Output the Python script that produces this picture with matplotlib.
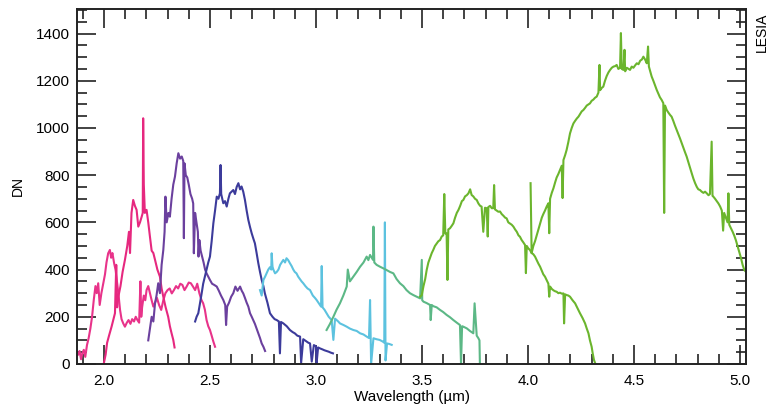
import matplotlib
matplotlib.use("Agg")
import matplotlib.pyplot as plt
from matplotlib.ticker import MultipleLocator

plt.rcParams['font.family'] = ['Liberation Sans', 'DejaVu Sans']

# spectral orders (wavelength in um, signal in DN)
wl_pink_a = [2.000, 2.008, 2.015, 2.024, 2.036, 2.045, 2.052, 2.058, 2.062, 2.068,
             2.078, 2.088, 2.099, 2.110, 2.118, 2.123, 2.130, 2.138, 2.146, 2.154,
             2.162, 2.170, 2.178, 2.183, 2.185, 2.188, 2.193, 2.201, 2.209, 2.217,
             2.225, 2.233, 2.241, 2.252, 2.264, 2.272, 2.280, 2.291, 2.303, 2.311,
             2.319, 2.327, 2.333]
dn_pink_a = [5, 40, 90, 120, 158, 190, 215, 420, 240, 285,
             330, 390, 441, 500, 560, 470, 640, 695, 670, 653,
             582, 600, 624, 640, 1041, 760, 640, 653, 600, 539,
             480, 470, 441, 400, 370, 320, 285, 240, 200, 160,
             130, 102, 70]

wl_pink_b = [1.878, 1.885, 1.892, 1.898, 1.905, 1.912, 1.920, 1.928, 1.936, 1.944,
             1.952, 1.960, 1.966, 1.973, 1.980, 1.988, 1.997, 2.005, 2.012, 2.020,
             2.028, 2.034, 2.040, 2.048, 2.055, 2.060, 2.068, 2.076, 2.083, 2.091,
             2.099, 2.108, 2.116, 2.125, 2.133, 2.142, 2.150, 2.158, 2.166, 2.172,
             2.176, 2.180, 2.188, 2.195, 2.201, 2.209, 2.217, 2.225, 2.233, 2.241,
             2.250, 2.260, 2.270, 2.280, 2.290, 2.300, 2.310, 2.320, 2.330, 2.340,
             2.350, 2.360, 2.370, 2.380, 2.390, 2.400, 2.410, 2.420, 2.430, 2.440,
             2.450, 2.460, 2.468, 2.476, 2.484, 2.492, 2.500, 2.508, 2.516, 2.524]
dn_pink_b = [40, 55, 20, 45, 60, 30, 80, 110, 150, 200,
             271, 330, 300, 342, 250, 300, 342, 380, 430, 469,
             483, 450, 470, 427, 398, 360, 300, 229, 190, 172,
             158, 175, 186, 170, 190, 180, 200, 186, 175, 350,
             200, 240, 290, 270, 313, 330, 300, 270, 243, 260,
             280, 250, 229, 270, 300, 313, 320, 299, 313, 330,
             320, 340, 335, 313, 328, 345, 342, 328, 313, 340,
             300, 271, 257, 230, 186, 160, 144, 120, 95, 73]

wl_purple = [2.209, 2.217, 2.225, 2.233, 2.241, 2.248, 2.256, 2.264, 2.272, 2.280,
             2.286, 2.290, 2.296, 2.304, 2.311, 2.319, 2.327, 2.335, 2.343, 2.351,
             2.359, 2.367, 2.374, 2.377, 2.380, 2.386, 2.393, 2.400, 2.408, 2.416,
             2.421, 2.424, 2.430, 2.437, 2.443, 2.446, 2.450, 2.456, 2.463, 2.470,
             2.477, 2.484, 2.492, 2.500, 2.510, 2.520, 2.532, 2.542, 2.552, 2.563,
             2.572, 2.576, 2.581, 2.590, 2.600, 2.610, 2.620, 2.630, 2.642, 2.650,
             2.657, 2.665, 2.673, 2.681, 2.689, 2.697, 2.704, 2.712, 2.720, 2.728,
             2.736, 2.744, 2.752, 2.760]
dn_purple = [100, 150, 200, 180, 257, 290, 342, 300, 420, 483,
             560, 709, 600, 640, 624, 700, 760, 794, 850, 893,
             870, 879, 860, 533, 850, 800, 790, 760, 720, 700,
             680, 469, 640, 596, 560, 455, 525, 480, 455, 430,
             400, 384, 370, 356, 340, 335, 328, 310, 290, 271,
             250, 165, 243, 260, 285, 300, 328, 310, 328, 310,
             299, 280, 260, 243, 215, 200, 186, 170, 150, 130,
             110, 87, 73, 55]

wl_indigo = [2.430, 2.437, 2.445, 2.453, 2.461, 2.468, 2.476, 2.484, 2.492, 2.500,
             2.508, 2.516, 2.524, 2.532, 2.540, 2.547, 2.550, 2.553, 2.558, 2.563,
             2.571, 2.579, 2.587, 2.594, 2.602, 2.610, 2.618, 2.626, 2.634, 2.642,
             2.649, 2.657, 2.665, 2.673, 2.681, 2.689, 2.697, 2.705, 2.712, 2.720,
             2.728, 2.736, 2.744, 2.752, 2.759, 2.771, 2.783, 2.795, 2.805, 2.815,
             2.825, 2.830, 2.835, 2.846, 2.862, 2.877, 2.890, 2.900, 2.912, 2.925,
             2.930, 2.940, 2.948, 2.956, 2.964, 2.972, 2.980, 2.990, 3.000, 3.003,
             3.010, 3.019, 3.030, 3.040, 3.050, 3.060, 3.070, 3.080]
dn_indigo = [180, 200, 215, 257, 300, 340, 370, 400, 430, 455,
             520, 596, 650, 709, 700, 723, 843, 720, 700, 681,
             690, 667, 700, 723, 730, 737, 720, 750, 766, 740,
             752, 730, 695, 650, 610, 580, 553, 530, 511, 470,
             427, 390, 356, 330, 299, 260, 215, 200, 190, 186,
             180, 45, 178, 172, 160, 144, 135, 130, 120, 116,
             5, 105, 100, 95, 90, 87, 10, 80, 75, 5,
             70, 66, 62, 58, 55, 52, 48, 45]

wl_cyan = [2.736, 2.744, 2.752, 2.760, 2.767, 2.775, 2.783, 2.789, 2.791, 2.795,
           2.799, 2.807, 2.815, 2.823, 2.831, 2.838, 2.846, 2.854, 2.861, 2.869,
           2.877, 2.885, 2.893, 2.900, 2.908, 2.916, 2.924, 2.932, 2.940, 2.950,
           2.960, 2.972, 2.985, 2.995, 3.003, 3.015, 3.024, 3.027, 3.031, 3.040,
           3.050, 3.060, 3.074, 3.082, 3.090, 3.105, 3.113, 3.130, 3.145, 3.160,
           3.176, 3.192, 3.208, 3.224, 3.239, 3.250, 3.255, 3.260, 3.271, 3.285,
           3.300, 3.315, 3.322, 3.325, 3.328, 3.335, 3.345, 3.357]
dn_cyan = [313, 290, 356, 370, 384, 400, 410, 400, 469, 412,
           400, 384, 390, 400, 420, 430, 441, 430, 448, 440,
           427, 415, 400, 390, 384, 370, 360, 350, 342, 330,
           320, 313, 290, 280, 271, 255, 243, 415, 240, 230,
           215, 200, 186, 102, 192, 180, 172, 165, 158, 150,
           144, 140, 130, 125, 116, 110, 271, 0, 109, 105,
           102, 95, 90, 600, 15, 87, 85, 81]

wl_teal = [3.050, 3.066, 3.082, 3.097, 3.113, 3.129, 3.145, 3.150, 3.160, 3.176,
           3.192, 3.208, 3.224, 3.239, 3.247, 3.255, 3.263, 3.269, 3.271, 3.275,
           3.286, 3.302, 3.318, 3.333, 3.349, 3.365, 3.380, 3.396, 3.412, 3.427,
           3.443, 3.459, 3.475, 3.491, 3.499, 3.501, 3.507, 3.522, 3.538, 3.541,
           3.546, 3.553, 3.569, 3.585, 3.600, 3.616, 3.632, 3.648, 3.664, 3.679,
           3.684, 3.689, 3.695, 3.711, 3.726, 3.742, 3.748, 3.758, 3.766, 3.771,
           3.773]
dn_teal = [144, 170, 200, 230, 257, 290, 328, 400, 350, 370,
           390, 412, 430, 455, 440, 462, 450, 441, 582, 430,
           420, 412, 405, 398, 390, 384, 360, 342, 330, 313,
           300, 292, 285, 278, 441, 270, 264, 258, 250, 186,
           250, 245, 240, 229, 220, 208, 198, 186, 175, 165,
           0, 160, 158, 151, 140, 130, 257, 120, 109, 100,
           0]

wl_green_a = [3.491, 3.499, 3.507, 3.515, 3.522, 3.530, 3.538, 3.546, 3.553, 3.561,
              3.569, 3.577, 3.585, 3.593, 3.600, 3.605, 3.610, 3.616, 3.620, 3.624,
              3.632, 3.640, 3.648, 3.656, 3.664, 3.672, 3.680, 3.688, 3.695, 3.703,
              3.711, 3.719, 3.727, 3.734, 3.742, 3.750, 3.758, 3.766, 3.774, 3.781,
              3.789, 3.797, 3.805, 3.810, 3.813, 3.821, 3.829, 3.836, 3.840, 3.844,
              3.852, 3.860, 3.868, 3.876, 3.884, 3.892, 3.899, 3.907, 3.915, 3.923,
              3.931, 3.939, 3.947, 3.955, 3.962, 3.970, 3.978, 3.986, 3.990, 3.994,
              4.001, 4.009, 4.017, 4.025, 4.033, 4.041, 4.049, 4.057, 4.065, 4.072,
              4.080, 4.088, 4.096, 4.100, 4.104, 4.112, 4.120, 4.128, 4.135, 4.143,
              4.151, 4.159, 4.167, 4.170, 4.175, 4.182, 4.190, 4.198, 4.210, 4.222,
              4.234, 4.245, 4.257, 4.269, 4.277, 4.285, 4.292, 4.300, 4.305, 4.311,
              4.318]
dn_green_a = [285, 292, 330, 360, 398, 430, 450, 470, 483, 500,
              510, 520, 525, 540, 545, 720, 553, 553, 356, 570,
              575, 585, 596, 620, 640, 653, 670, 690, 695, 710,
              715, 723, 740, 716, 710, 700, 695, 680, 670, 667,
              560, 662, 660, 540, 665, 670, 660, 660, 758, 655,
              650, 645, 646, 635, 628, 620, 617, 600, 595, 590,
              582, 570, 560, 545, 539, 525, 515, 504, 385, 500,
              490, 483, 470, 465, 455, 440, 425, 412, 395, 380,
              370, 355, 340, 285, 328, 318, 312, 308, 306, 300,
              302, 298, 299, 172, 295, 292, 290, 285, 270, 257,
              235, 215, 195, 172, 150, 130, 100, 73, 45, 17,
              0]

wl_green_b = [4.012,
              4.017, 4.025, 4.033, 4.041, 4.049, 4.057, 4.065, 4.072, 4.080, 4.088,
              4.096, 4.100, 4.104, 4.112, 4.120, 4.128, 4.135, 4.143, 4.151, 4.159,
              4.163, 4.167, 4.175, 4.182, 4.190, 4.198, 4.206, 4.214, 4.222, 4.230,
              4.238, 4.246, 4.253, 4.261, 4.269, 4.277, 4.285, 4.292, 4.300, 4.308,
              4.316, 4.324, 4.332, 4.337, 4.340, 4.348, 4.355, 4.363, 4.371, 4.379,
              4.387, 4.395, 4.403, 4.411, 4.418, 4.426, 4.434, 4.438, 4.442, 4.450,
              4.455, 4.458, 4.466, 4.474, 4.481, 4.489, 4.497, 4.505, 4.513, 4.521,
              4.529, 4.537, 4.544, 4.552, 4.560, 4.566, 4.570, 4.576, 4.583, 4.591,
              4.599, 4.607, 4.615, 4.622, 4.630, 4.638, 4.642, 4.646, 4.654, 4.662,
              4.670, 4.677, 4.685, 4.693, 4.701, 4.709, 4.717, 4.725, 4.733, 4.740,
              4.748, 4.756, 4.764, 4.772, 4.780, 4.788, 4.796, 4.803, 4.811, 4.819,
              4.827, 4.835, 4.843, 4.851, 4.858, 4.866, 4.870, 4.874, 4.882, 4.890,
              4.898, 4.906, 4.914, 4.920, 4.925, 4.933, 4.941, 4.945, 4.949, 4.957,
              4.965, 4.972, 4.980, 4.988, 4.996, 5.004, 5.012, 5.020, 5.028]
dn_green_b = [766,
              470, 500, 520, 545, 570, 596, 620, 635, 650, 667,
              681, 554, 700, 725, 745, 770, 790, 805, 822, 840,
              703, 864, 885, 907, 940, 977, 1000, 1019, 1030, 1040,
              1048, 1060, 1070, 1076, 1085, 1095, 1100, 1104, 1115, 1120,
              1128, 1133, 1150, 1267, 1160, 1170, 1175, 1200, 1220, 1235,
              1246, 1255, 1260, 1262, 1267, 1250, 1255, 1402, 1250, 1246,
              1331, 1240, 1255, 1250, 1246, 1260, 1255, 1265, 1274, 1270,
              1285, 1290, 1302, 1290, 1274, 1345, 1260, 1240, 1218, 1200,
              1180, 1161, 1145, 1130, 1119, 1105, 640, 1095, 1076, 1065,
              1055, 1048, 1030, 1010, 992, 975, 955, 935, 915, 898,
              879, 855, 830, 808, 785, 766, 750, 740, 737, 730,
              725, 730, 723, 715, 720, 942, 712, 709, 700, 690,
              680, 667, 650, 565, 640, 620, 600, 723, 590, 575,
              560, 545, 525, 500, 475, 450, 420, 398, 390]

orders = [
    (wl_pink_b, dn_pink_b, '#e8338a'),
    (wl_pink_a, dn_pink_a, '#e6287f'),
    (wl_purple, dn_purple, '#6b409e'),
    (wl_indigo, dn_indigo, '#3c3b9b'),
    (wl_cyan, dn_cyan, '#5cc2df'),
    (wl_teal, dn_teal, '#5cb886'),
    (wl_green_a, dn_green_a, '#6bb52d'),
    (wl_green_b, dn_green_b, '#6bb52d'),
]

fig = plt.figure(figsize=(7.81, 4.07), dpi=100)
ax = fig.add_axes([0.0986, 0.1057, 0.8566, 0.8722])

for wl, dn, col in orders:
    ax.plot(wl, dn, color=col, linewidth=1.5)

ax.set_xlim(1.873, 5.028)
ax.set_ylim(0, 1504)
ax.xaxis.set_major_locator(MultipleLocator(0.5))
ax.xaxis.set_minor_locator(MultipleLocator(0.1))
ax.yaxis.set_major_locator(MultipleLocator(200))
ax.yaxis.set_minor_locator(MultipleLocator(50))
ax.tick_params(which='both', direction='in', top=True, right=True,
               width=1.2, color='#222222', labelsize=11)
ax.tick_params(which='major', length=14)
ax.tick_params(which='minor', length=7)
ax.tick_params(axis='x', pad=7)
ax.tick_params(axis='y', pad=5)
for sp in ax.spines.values():
    sp.set_linewidth(1.4)
    sp.set_color('#222222')

ax.set_xlabel('Wavelength (µm)', fontsize=11, labelpad=2)
ax.set_ylabel('DN', fontsize=10, labelpad=8)
fig.text(0.976, 0.92, 'LESIA', rotation=90, fontsize=10, ha='center', va='center')

plt.savefig('out.png', dpi=100)
